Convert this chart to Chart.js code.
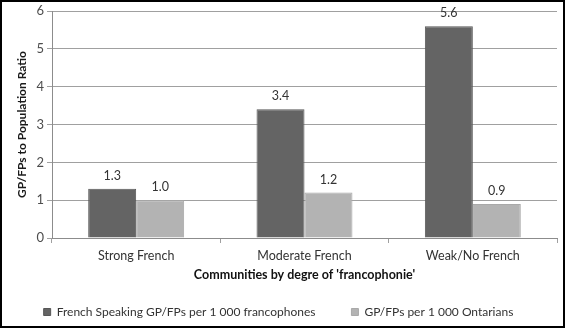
<!DOCTYPE html>
<html>
<head>
<meta charset="utf-8">
<script src="https://cdn.jsdelivr.net/npm/chart.js@4"></script>
<style>
    html, body { margin: 0; padding: 0; background: #fff; }
    #wrap { position: relative; width: 566px; height: 332px; }
    #frame {
        position: absolute; left: 0; top: 0; width: 565px; height: 328px;
        border: 2px solid #000; box-sizing: border-box; pointer-events: none;
    }
    canvas { position: absolute; left: 0; top: 0; }
</style>
</head>
<body>
<div id="wrap">
    <canvas id="chart-ratio" width="566" height="332"></canvas>
    <div id="frame"></div>
</div>
<script>
var communities = ['Strong French', 'Moderate French', 'Weak/No French'];
var frenchSpeaking = [1.3, 3.4, 5.6];
var allOntarians = [1.0, 1.2, 0.9];
var seriesNames = ['French Speaking GP/FPs per 1 000 francophones', 'GP/FPs per 1 000 Ontarians'];
var yTicks = [0, 1, 2, 3, 4, 5, 6];

var fontName = 'Lato, "Open Sans", sans-serif';

// values written over each bar
var barValueLabels = {
    id: 'barValueLabels',
    afterDatasetsDraw(chart) {
        var ctx = chart.ctx;
        ctx.save();
        ctx.font = '12.5px ' + fontName;
        ctx.fillStyle = '#333333';
        ctx.textAlign = 'center';
        ctx.textBaseline = 'middle';
        chart.data.datasets.forEach((ds, i) => {
            chart.getDatasetMeta(i).data.forEach((bar, j) => {
                ctx.fillText(ds.data[j].toFixed(1), bar.x, bar.y - 13);
            });
        });
        ctx.restore();
    }
};

const ratio_context = document.getElementById('chart-ratio').getContext('2d');
ratio_data = {
    labels: communities,
    datasets: [{
        label: seriesNames[0],
        data: frenchSpeaking,
        backgroundColor: '#646464',
        borderColor: '#575757',
        borderWidth: 1
    }, {
        label: seriesNames[1],
        data: allOntarians,
        backgroundColor: '#b3b3b3',
        borderColor: '#a9a9a9',
        borderWidth: 1
    }]
};

ratio_chart = new Chart(ratio_context, {
    type: 'bar',
    data: ratio_data,
    plugins: [barValueLabels],
    options: {
        responsive: false,
        animation: false,
        layout: { padding: { top: 11, right: 9, bottom: 4, left: 0 } },
        datasets: { bar: { categoryPercentage: 0.57, barPercentage: 1 } },
        plugins: {
            tooltip: { enabled: false },
            legend: {
                position: 'bottom',
                labels: {
                    boxWidth: 7,
                    boxHeight: 7,
                    padding: 36,
                    color: '#333333',
                    font: { family: fontName, size: 12 }
                }
            }
        },
        scales: {
            y: {
                min: 0,
                max: 6,
                afterBuildTicks: scale => { scale.ticks = yTicks.map(v => ({ value: v })); },
                afterFit: scale => { scale.width = 52; },
                ticks: { color: '#4d4d4d', padding: 3, font: { family: fontName, size: 13 } },
                grid: { color: '#a0a0a0', tickLength: 5 },
                border: { color: '#8c8c8c' },
                title: {
                    display: true,
                    text: "GP/FPs to Population Ratio",
                    color: '#1a1a1a',
                    padding: { top: 15, bottom: 0 },
                    font: { family: fontName, size: 12, weight: 'bold' }
                }
            },
            x: {
                afterFit: scale => { scale.height = 32; },
                ticks: { color: '#333333', padding: 5, font: { family: fontName, size: 12.5 } },
                grid: { drawOnChartArea: false, color: '#a0a0a0', tickLength: 5 },
                border: { color: '#8c8c8c' },
                title: {
                    display: true,
                    text: "Communities by degre of 'francophonie'",
                    color: '#111111',
                    padding: { top: 0, bottom: -12 },
                    font: { family: fontName, size: 12.5, weight: 'bold' }
                }
            }
        }
    }
});
</script>
</body>
</html>
